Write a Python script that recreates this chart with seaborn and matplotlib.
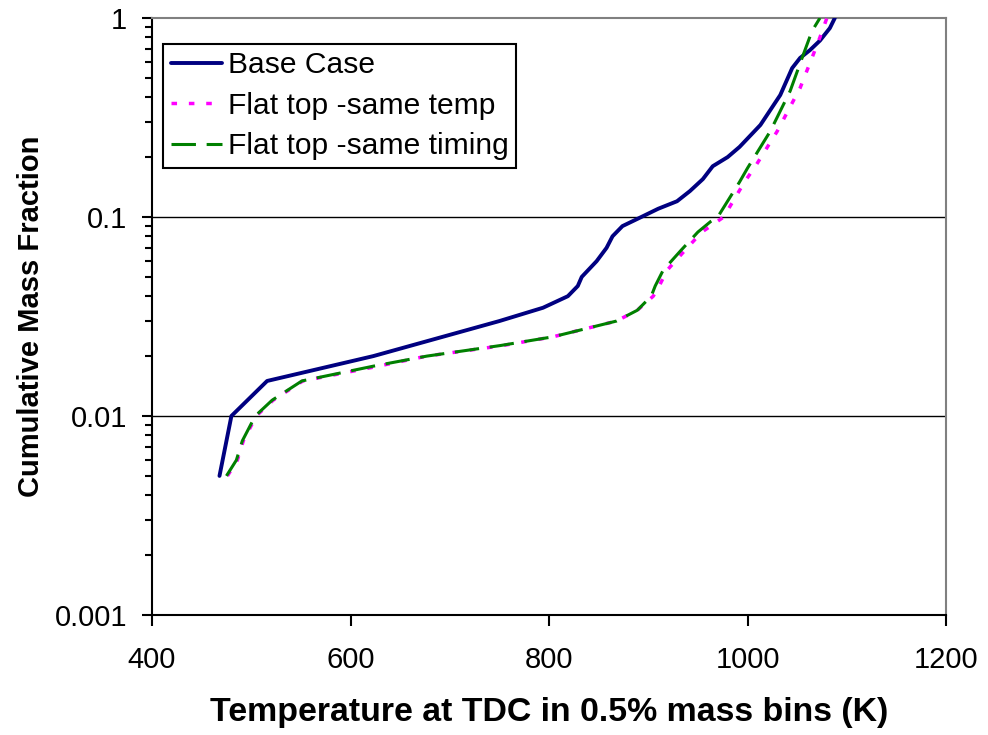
import matplotlib
matplotlib.use("Agg")
import matplotlib.pyplot as plt
import seaborn as sns
import pandas as pd
import numpy as np
from matplotlib.ticker import LogLocator, FixedLocator, NullFormatter

# ---- data ----
base_T = [468, 480, 516, 623, 750, 794, 819, 829, 833, 848, 858, 864, 874, 893,
          910, 929, 942, 955, 965, 980, 992, 1013, 1033, 1045, 1053, 1063, 1073, 1083, 1088]
base_F = [0.005, 0.010, 0.015, 0.020, 0.030, 0.035, 0.040, 0.045, 0.050, 0.060, 0.070,
          0.080, 0.090, 0.100, 0.110, 0.120, 0.135, 0.155, 0.180, 0.200, 0.225, 0.290,
          0.410, 0.560, 0.630, 0.690, 0.770, 0.890, 1.0]

temp_T = [476, 486, 492, 505, 522, 552, 623, 677, 751, 804, 868, 889, 905, 911, 919,
          937, 954, 967, 976, 997, 1008, 1030, 1053, 1066, 1073, 1080]
temp_F = [0.005, 0.006, 0.0075, 0.010, 0.012, 0.015, 0.0176, 0.020, 0.0225, 0.025, 0.030,
          0.034, 0.040, 0.045, 0.054, 0.068, 0.084, 0.093, 0.100, 0.150, 0.180, 0.270,
          0.445, 0.650, 0.800, 1.0]

timing_T = [475, 485, 491, 504, 521, 551, 623, 677, 751, 804, 868, 889, 903, 907, 915,
            933, 950, 963, 970, 992, 1000, 1023, 1043, 1056, 1065, 1073]
timing_F = [0.005, 0.006, 0.0075, 0.010, 0.012, 0.015, 0.0178, 0.020, 0.0226, 0.025, 0.030,
            0.034, 0.040, 0.045, 0.054, 0.068, 0.084, 0.095, 0.100, 0.150, 0.176, 0.270,
            0.430, 0.650, 0.860, 1.0]

labels = ["Base Case", "Flat top -same temp", "Flat top -same timing"]
x_ticks = [400, 600, 800, 1000, 1200]
y_ticks = [0.001, 0.01, 0.1, 1]
y_tick_labels = ["0.001", "0.01", "0.1", "1"]

sns.set_theme(style="white")
plt.rcParams['font.family'] = ['Liberation Sans', 'DejaVu Sans']
plt.rcParams['text.color'] = 'black'
plt.rcParams['axes.labelcolor'] = 'black'
plt.rcParams['xtick.color'] = 'black'
plt.rcParams['ytick.color'] = 'black'

fig = plt.figure(figsize=(9.88, 7.35), dpi=100)
ax = fig.add_axes([152/988, 1-615/735, (946-152)/988, (615-18)/735])

df_base = pd.DataFrame({"T": base_T, "F": base_F})
df_temp = pd.DataFrame({"T": temp_T, "F": temp_F})
df_timing = pd.DataFrame({"T": timing_T, "F": timing_F})

sns.lineplot(data=df_base, x="T", y="F", ax=ax, color="#000080", lw=2.8,
             estimator=None, sort=False, label=labels[0], zorder=3)
sns.lineplot(data=df_temp, x="T", y="F", ax=ax, color="#FF00FF", lw=2.5,
             estimator=None, sort=False, label=labels[1], zorder=3)
sns.lineplot(data=df_timing, x="T", y="F", ax=ax, color="#008000", lw=2.2,
             estimator=None, sort=False, label=labels[2], zorder=4)
lines = ax.get_lines()
lines[1].set_dashes([1.6, 3.4])
lines[2].set_dashes([8.0, 3.5])

ax.set_yscale("log")
ax.set_xlim(400, 1200)
ax.set_ylim(0.001, 1)
ax.set_xticks(x_ticks)
ax.set_xticklabels([str(v) for v in x_ticks])
ax.yaxis.set_major_locator(FixedLocator(y_ticks))
ax.set_yticklabels(y_tick_labels)
ax.yaxis.set_minor_locator(LogLocator(base=10, subs=np.arange(2, 10)))
ax.yaxis.set_minor_formatter(NullFormatter())

ax.tick_params(axis="both", which="major", direction="out", length=7, width=1.5,
               labelsize=21, color="black", labelcolor="black")
ax.tick_params(axis="y", which="major", pad=11)
ax.tick_params(axis="y", which="minor", direction="out", length=5, width=1.5, color="black")
ax.tick_params(axis="x", which="major", length=8, pad=14)
ax.tick_params(left=True, bottom=True, which="both")
ax.tick_params(axis="x", which="minor", bottom=False)

for y in [0.01, 0.1]:
    ax.axhline(y, color="black", lw=1.0, zorder=1)

for s in ["left", "bottom"]:
    ax.spines[s].set_color("black")
    ax.spines[s].set_linewidth(1.5)
for s in ["top", "right"]:
    ax.spines[s].set_color("#808080")
    ax.spines[s].set_linewidth(1.5)

ax.set_xlabel("Temperature at TDC in 0.5% mass bins (K)", fontsize=24.4, fontweight="bold",
              labelpad=17, color="black")
ax.set_ylabel("Cumulative Mass Fraction", fontsize=21, fontweight="bold", labelpad=7,
              color="black")

leg = ax.legend(loc="upper left", bbox_to_anchor=(0.014, 0.957), fontsize=21.6,
                frameon=True, fancybox=False, edgecolor="black", framealpha=1,
                borderpad=0.25, labelspacing=0.42, handlelength=1.7, handletextpad=0.2,
                borderaxespad=0)
leg.get_frame().set_linewidth(1.5)
for t in leg.get_texts():
    t.set_color("black")

fig.savefig("out.png", dpi=100)
